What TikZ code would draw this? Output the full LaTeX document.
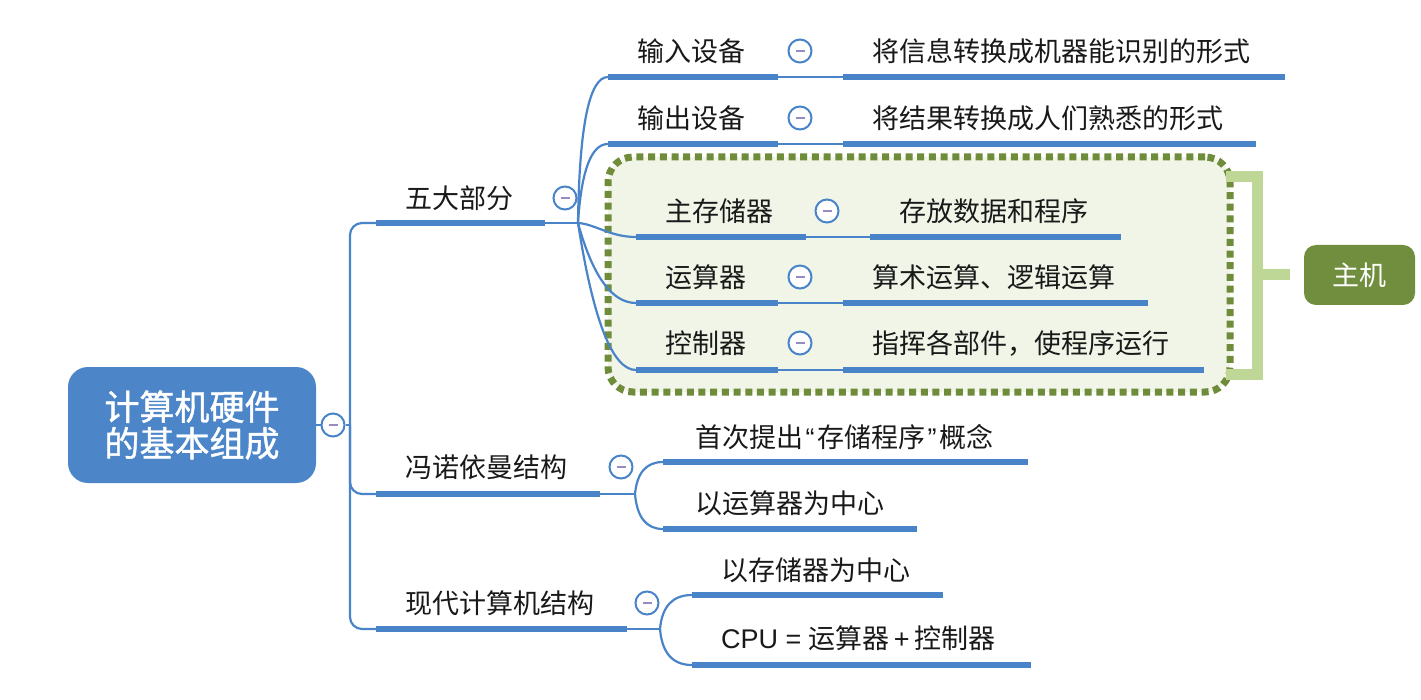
\documentclass[tikz,border=0pt]{standalone}
\usepackage{fontspec}
\setmainfont{Noto Sans CJK SC}
\newfontfamily\latinfont{Liberation Sans}
\usetikzlibrary{calc}
\definecolor{mmblue}{RGB}{74,132,200}
\definecolor{rootblue}{RGB}{76,134,201}
\definecolor{dashpurple}{RGB}{150,140,195}
\definecolor{dotgreen}{RGB}{110,140,58}
\definecolor{boxfill}{RGB}{240,245,232}
\definecolor{brkgreen}{RGB}{190,215,150}
\definecolor{hostgreen}{RGB}{112,142,62}
\definecolor{txt}{RGB}{25,25,25}
\newcommand{\mmcurve}[3]{%
  \path ($(#1 |- #2)+(#3,0)$) coordinate (mmq);
  \draw[conn] (#1) .. controls ($(#1)!0.667!(mmq)$) and ($(#2)!0.667!(mmq)$) .. (#2);}
\begin{document}
\begin{tikzpicture}[x=1pt,y=-1pt,
  conn/.style={draw=mmblue, line width=2.2pt},
  bar/.style={draw=mmblue, line width=6.5pt},
  topic/.style={anchor=west, inner sep=0pt, text=txt, font=\fontsize{27}{30}\selectfont},
  collapse/.style={circle, draw=mmblue, fill=white, line width=2pt, minimum size=23pt, inner sep=0pt,
    path picture={\draw[dashpurple, line width=2pt] ($(path picture bounding box.center)+(-4.5,0)$) -- ($(path picture bounding box.center)+(4.5,0)$);}},
  rootbox/.style={fill=rootblue, rounded corners=20pt, minimum width=248pt, minimum height=116pt, text=white, align=center, inner sep=0pt, font=\fontsize{35}{36.5}\selectfont\addfontfeature{FakeBold=1.2}},
  hostbox/.style={fill=hostgreen, rounded corners=12pt, minimum width=111pt, minimum height=60pt, text=white, inner sep=0pt, font=\fontsize{27}{30}\selectfont},
  dotbox/.style={draw=dotgreen, fill=boxfill, line width=7pt, dash pattern=on 7pt off 4.7pt, rounded corners=25pt, minimum width=622pt, minimum height=235pt, inner sep=0pt},
  brk/.style={draw=brkgreen, line width=11pt, line join=miter},
  ]
\useasboundingbox (0,0) rectangle (1421,700);
\fill[white] (0,0) rectangle (1421,700);

% host group box
\node[dotbox] (main) at (919,274.5) {};
\coordinate (bt) at (1226,177);
\coordinate (bb) at (1226,374);
\coordinate (bm) at (1257,275);
\draw[brk] (bt) -| (bm) |- (bb);
\node[hostbox] (host) at (1359.5,275) {主机};
\draw[brk] (bm) -- ($(host.west)+(-14,0)$);

% root
\node[rootbox] (root) at (192,425) {计算机硬件\\的基本组成};
\node[collapse] (rc) at (333,425) {};
\coordinate (trunk) at (350,425);
\draw[conn] (root.east) -- (rc.west);
\draw[conn] (rc.east) -- (trunk);

% level 1 coordinates
\coordinate (b1L) at (376,223); \coordinate (b1R) at (545,223); \coordinate (h1) at (578,223);
\coordinate (b2L) at (376,494); \coordinate (b2R) at (600,494); \coordinate (h2) at (635,494);
\coordinate (b3L) at (376,629); \coordinate (b3R) at (627,629); \coordinate (h3) at (660,629);

\draw[conn, rounded corners=12pt] (trunk) |- (b1L);
\draw[conn, rounded corners=12pt] (trunk) |- (b2L);
\draw[conn, rounded corners=12pt] (trunk) |- (b3L);

% level 2 coordinates
\coordinate (c1L) at (608,77);  \coordinate (c1R) at (778,77);  \coordinate (d1L) at (843,77);  \coordinate (d1R) at (1285,77);
\coordinate (c2L) at (608,144); \coordinate (c2R) at (778,144); \coordinate (d2L) at (843,144); \coordinate (d2R) at (1256,144);
\coordinate (c3L) at (636,237); \coordinate (c3R) at (806,237); \coordinate (d3L) at (870,237); \coordinate (d3R) at (1121,237);
\coordinate (c4L) at (636,303); \coordinate (c4R) at (778,303); \coordinate (d4L) at (843,303); \coordinate (d4R) at (1148,303);
\coordinate (c5L) at (636,370); \coordinate (c5R) at (778,370); \coordinate (d5L) at (843,370); \coordinate (d5R) at (1204,370);
\coordinate (e1L) at (663,462); \coordinate (e1R) at (1028,462);
\coordinate (e2L) at (663,529); \coordinate (e2R) at (917,529);
\coordinate (f1L) at (692,595); \coordinate (f1R) at (943,595);
\coordinate (f2L) at (692,665); \coordinate (f2R) at (1031,665);

% thin connectors
\draw[conn] (b1R) -- (h1);
\draw[conn] (b2R) -- (h2);
\draw[conn] (b3R) -- (h3);
\mmcurve{h1}{c1L}{2}
\mmcurve{h1}{c2L}{5}
\draw[conn] (h1) .. controls ($(h1)+(17,1)$) and ($(c3L)+(-26,0)$) .. (c3L);
\mmcurve{h1}{c4L}{22}
\mmcurve{h1}{c5L}{23}
\mmcurve{h2}{e1L}{3}
\mmcurve{h2}{e2L}{3}
\mmcurve{h3}{f1L}{3}
\mmcurve{h3}{f2L}{3}
\draw[conn] (c1R) -- (d1L);
\draw[conn] (c2R) -- (d2L);
\draw[conn] (c3R) -- (d3L);
\draw[conn] (c4R) -- (d4L);
\draw[conn] (c5R) -- (d5L);

% bars
\draw[bar] (b1L) -- (b1R);
\draw[bar] (b2L) -- (b2R);
\draw[bar] (b3L) -- (b3R);
\draw[bar] (c1L) -- (c1R); \draw[bar] (d1L) -- (d1R);
\draw[bar] (c2L) -- (c2R); \draw[bar] (d2L) -- (d2R);
\draw[bar] (c3L) -- (c3R); \draw[bar] (d3L) -- (d3R);
\draw[bar] (c4L) -- (c4R); \draw[bar] (d4L) -- (d4R);
\draw[bar] (c5L) -- (c5R); \draw[bar] (d5L) -- (d5R);
\draw[bar] (e1L) -- (e1R);
\draw[bar] (e2L) -- (e2R);
\draw[bar] (f1L) -- (f1R);
\draw[bar] (f2L) -- (f2R);

% texts
\node[topic] (t1) at (405,198) {五大部分};
\node[topic] (t2) at (405,467) {冯诺依曼结构};
\node[topic] (t3) at (405,603) {现代计算机结构};
\node[topic] (tc1) at (637,51) {输入设备};
\node[topic] (td1) at (872,51) {将信息转换成机器能识别的形式};
\node[topic] (tc2) at (637,118) {输出设备};
\node[topic] (td2) at (872,118) {将结果转换成人们熟悉的形式};
\node[topic] (tc3) at (665,211) {主存储器};
\node[topic] (td3) at (899,211) {存放数据和程序};
\node[topic] (tc4) at (665,277) {运算器};
\node[topic] (td4) at (872,277) {算术运算、逻辑运算};
\node[topic] (tc5) at (665,343) {控制器};
\node[topic] (td5) at (872,343) {指挥各部件，使程序运行};
\node[topic] (te1) at (695,437) {首次提出\hspace{2.5pt}{\latinfont“}\hspace{2.5pt}存储程序\hspace{2.5pt}{\latinfont”}\hspace{2.5pt}概念};
\node[topic] (te2) at (695,503) {以运算器为中心};
\node[topic] (tf1) at (721,570) {以存储器为中心};
\node[topic] (tf2) at (721,638) {{\latinfont CPU = }运算器\hspace{4pt}{\latinfont+}\hspace{5pt}控制器};

% collapse icons
\node[collapse] (k1) at (565,198) {};
\node[collapse] (k2) at (621,467) {};
\node[collapse] (k3) at (647,603) {};
\node[collapse] (kc1) at (800,51) {};
\node[collapse] (kc2) at (800,118) {};
\node[collapse] (kc3) at (827,211) {};
\node[collapse] (kc4) at (800,277) {};
\node[collapse] (kc5) at (800,343) {};
\end{tikzpicture}
\end{document}
